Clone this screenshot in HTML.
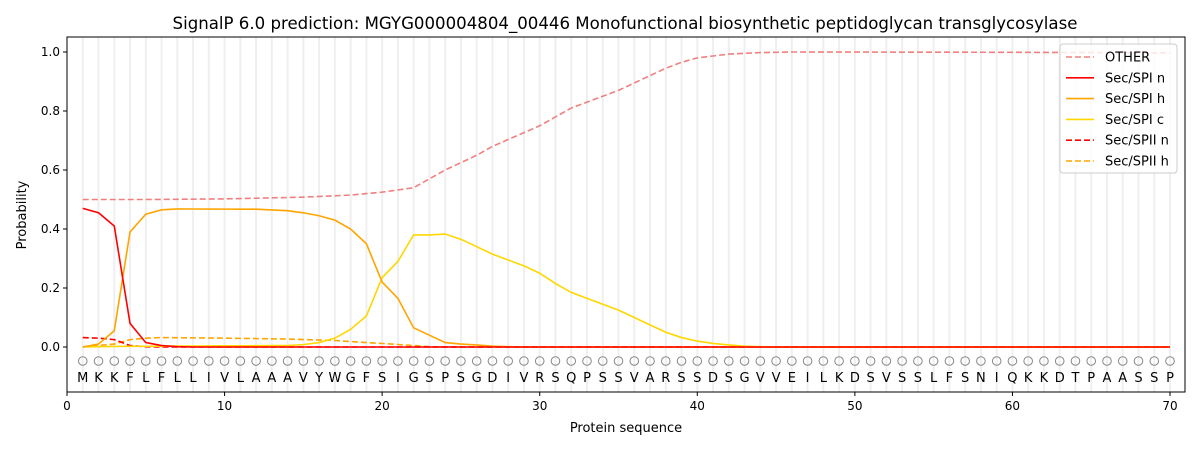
<!DOCTYPE html>
<html><head><meta charset="utf-8"><style>
body{margin:0;background:#fff;width:1200px;height:450px;overflow:hidden}
svg text{font-family:"DejaVu Sans","Liberation Sans",sans-serif;fill:#000}
</style></head><body>
<svg id="s" width="1200" height="450" xmlns="http://www.w3.org/2000/svg"></svg>
<script>
const s=document.getElementById('s');
const X=v=>67+v*(1103/70), Y=v=>347-v*295;
let h='';
for(let i=1;i<=70;i++)h+=`<line x1="${X(i)}" x2="${X(i)}" y1="37" y2="392" stroke="#efefef" stroke-width="2"/>`;
const seq="MKKFLFLLIVLAAAVYWGFSIGSPSGDIVRSQPSSVARSSDSGVVEILKDSVSSLFSNIQKKDTPAASSP";
for(let i=1;i<=70;i++){h+=`<circle cx="${X(i)}" cy="361" r="4.3" fill="none" stroke="#888" stroke-width="1"/>`;
h+=`<text x="${X(i)}" y="382" font-size="13" text-anchor="middle">${seq[i-1]}</text>`;}
function interp(pts){const a=[];for(let i=1;i<=70;i++){let v=0;for(let k=0;k<pts.length-1;k++){const[x0,y0]=pts[k],[x1,y1]=pts[k+1];if(i>=x0&&i<=x1){v=y0+(y1-y0)*(i-x0)/(x1-x0);break;}}if(i>pts[pts.length-1][0])v=pts[pts.length-1][1];a.push(v);}return a;}
function line(pts,c,d){const a=interp(pts);h+=`<polyline fill="none" stroke="${c}" stroke-width="1.6" ${d?'stroke-dasharray="6,3"':''} points="${a.map((v,i)=>X(i+1)+','+Y(v)).join(' ')}"/>`;}
line([[1,0],[2,0.005],[3,0.01],[4,0.025],[5,0.03],[6,0.032],[10,0.03],[14,0.027],[17,0.022],[19,0.015],[20,0.012],[22,0.005],[23,0.001],[24,0],[70,0]],'#ffa500',1);
line([[1,0.032],[2,0.03],[3,0.025],[4,0.005],[5,0.001],[6,0],[70,0]],'#ff0000',1);
line([[1,0],[3,0.002],[14,0.005],[15,0.008],[16,0.015],[17,0.03],[18,0.06],[19,0.105],[20,0.235],[21,0.29],[22,0.38],[23,0.38],[24,0.383],[25,0.365],[26,0.34],[27,0.315],[28,0.295],[29,0.275],[30,0.25],[31,0.215],[32,0.185],[33,0.165],[34,0.145],[35,0.125],[36,0.1],[37,0.075],[38,0.05],[39,0.032],[40,0.02],[41,0.012],[42,0.007],[43,0.003],[44,0.001],[45,0],[70,0]],'#ffd700');
line([[1,0],[2,0.01],[3,0.055],[4,0.39],[5,0.45],[6,0.465],[7,0.468],[12,0.467],[14,0.462],[15,0.455],[16,0.445],[17,0.43],[18,0.4],[19,0.35],[20,0.22],[21,0.165],[22,0.065],[23,0.04],[24,0.015],[25,0.01],[26,0.007],[27,0.003],[28,0.001],[29,0],[70,0]],'#ffa500');
line([[1,0.47],[2,0.455],[3,0.41],[4,0.08],[5,0.015],[6,0.005],[7,0.001],[8,0],[70,0]],'#ff0000');
line([[1,0.5],[5,0.5],[10,0.502],[15,0.508],[18,0.515],[20,0.525],[22,0.54],[23,0.57],[24,0.6],[26,0.65],[27,0.68],[30,0.75],[32,0.81],[35,0.87],[37,0.92],[38,0.945],[39,0.965],[40,0.98],[42,0.993],[44,0.998],[46,1],[60,0.999],[70,0.997]],'#f08080',1);
h+=`<rect x="67" y="37" width="1118" height="355" fill="none" stroke="#000" stroke-width="1"/>`;
for(let v=0;v<=70;v+=10){h+=`<line x1="${X(v)}" x2="${X(v)}" y1="392" y2="396" stroke="#000"/><text x="${X(v)}" y="410" font-size="12" text-anchor="middle">${v}</text>`;}
for(let k=0;k<=5;k++){const v=k*0.2;h+=`<line x1="63" x2="67" y1="${Y(v)}" y2="${Y(v)}" stroke="#000"/><text x="60" y="${Y(v)+4}" font-size="12" text-anchor="end">${v.toFixed(1)}</text>`;}
h+=`<text x="626" y="432" font-size="13" text-anchor="middle">Protein sequence</text>`;
h+=`<text transform="translate(26,215) rotate(-90)" font-size="13" text-anchor="middle">Probability</text>`;
h+=`<text x="625" y="29" font-size="16.6" text-anchor="middle">SignalP 6.0 prediction: MGYG000004804_00446 Monofunctional biosynthetic peptidoglycan transglycosylase</text>`;
h+=`<rect x="1060" y="44" width="117" height="129" rx="3" fill="#fff" fill-opacity="0.8" stroke="#ccc"/>`;
const L=[['OTHER','#f08080',1],['Sec/SPI n','#ff0000',0],['Sec/SPI h','#ffa500',0],['Sec/SPI c','#ffd700',0],['Sec/SPII n','#ff0000',1],['Sec/SPII h','#ffa500',1]];
L.forEach((e,i)=>{const y=57+i*20.8;h+=`<line x1="1066" x2="1094" y1="${y}" y2="${y}" stroke="${e[1]}" stroke-width="1.6" ${e[2]?'stroke-dasharray="6,3"':''}/><text x="1105" y="${y+4.5}" font-size="13">${e[0]}</text>`;});
s.innerHTML=h;
</script>
</body></html>
